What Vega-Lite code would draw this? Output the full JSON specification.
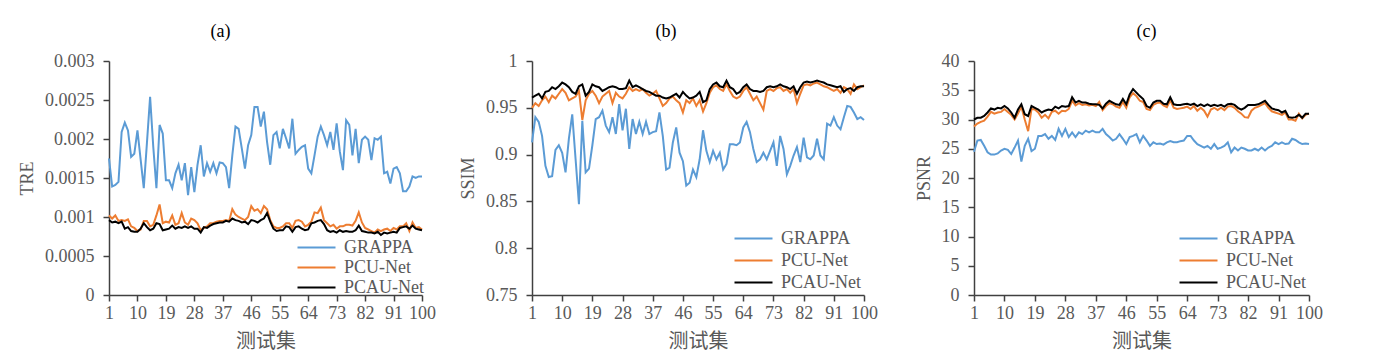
{
  "$schema": "https://vega.github.io/schema/vega-lite/v6.json",
  "background": "white",
  "padding": {"left": 18, "top": 23, "right": 5, "bottom": 5},
  "datasets": {
    "tre": [
      {"i":1,"GRAPPA":0.00175,"PCU-Net":0.00102,"PCAU-Net":0.00096},{"i":2,"GRAPPA":0.00139,"PCU-Net":0.00098,"PCAU-Net":0.00093},{"i":3,"GRAPPA":0.00141,"PCU-Net":0.00102,"PCAU-Net":0.00094},{"i":4,"GRAPPA":0.00145,"PCU-Net":0.00095,"PCAU-Net":0.00092},{"i":5,"GRAPPA":0.00209,"PCU-Net":0.00096,"PCAU-Net":0.00094},{"i":6,"GRAPPA":0.00221,"PCU-Net":0.00095,"PCAU-Net":0.00085},{"i":7,"GRAPPA":0.00211,"PCU-Net":0.00097,"PCAU-Net":0.00087},{"i":8,"GRAPPA":0.00177,"PCU-Net":0.00088,"PCAU-Net":0.00082},{"i":9,"GRAPPA":0.00181,"PCU-Net":0.00086,"PCAU-Net":0.00081},{"i":10,"GRAPPA":0.00211,"PCU-Net":0.00082,"PCAU-Net":0.00081},
      {"i":11,"GRAPPA":0.00174,"PCU-Net":0.00084,"PCAU-Net":0.00085},{"i":12,"GRAPPA":0.00137,"PCU-Net":0.00095,"PCAU-Net":0.00092},{"i":13,"GRAPPA":0.00195,"PCU-Net":0.00095,"PCAU-Net":0.00087},{"i":14,"GRAPPA":0.00254,"PCU-Net":0.00088,"PCAU-Net":0.00083},{"i":15,"GRAPPA":0.0019,"PCU-Net":0.0009,"PCAU-Net":0.00085},{"i":16,"GRAPPA":0.00137,"PCU-Net":0.00102,"PCAU-Net":0.00092},{"i":17,"GRAPPA":0.00218,"PCU-Net":0.00116,"PCAU-Net":0.00091},{"i":18,"GRAPPA":0.00207,"PCU-Net":0.00092,"PCAU-Net":0.00083},{"i":19,"GRAPPA":0.00147,"PCU-Net":0.00094,"PCAU-Net":0.00084},{"i":20,"GRAPPA":0.00147,"PCU-Net":0.00093,"PCAU-Net":0.00085},
      {"i":21,"GRAPPA":0.00137,"PCU-Net":0.00102,"PCAU-Net":0.00089},{"i":22,"GRAPPA":0.00156,"PCU-Net":0.0009,"PCAU-Net":0.00085},{"i":23,"GRAPPA":0.00167,"PCU-Net":0.00092,"PCAU-Net":0.00087},{"i":24,"GRAPPA":0.00147,"PCU-Net":0.00105,"PCAU-Net":0.00086},{"i":25,"GRAPPA":0.00169,"PCU-Net":0.00093,"PCAU-Net":0.00088},{"i":26,"GRAPPA":0.00128,"PCU-Net":0.0009,"PCAU-Net":0.00086},{"i":27,"GRAPPA":0.00164,"PCU-Net":0.00098,"PCAU-Net":0.00088},{"i":28,"GRAPPA":0.00132,"PCU-Net":0.00096,"PCAU-Net":0.00085},{"i":29,"GRAPPA":0.00167,"PCU-Net":0.00092,"PCAU-Net":0.00085},{"i":30,"GRAPPA":0.00192,"PCU-Net":0.00083,"PCAU-Net":0.0008},
      {"i":31,"GRAPPA":0.00152,"PCU-Net":0.00086,"PCAU-Net":0.00087},{"i":32,"GRAPPA":0.00169,"PCU-Net":0.00088,"PCAU-Net":0.00086},{"i":33,"GRAPPA":0.00158,"PCU-Net":0.00092,"PCAU-Net":0.00089},{"i":34,"GRAPPA":0.00169,"PCU-Net":0.00092,"PCAU-Net":0.00091},{"i":35,"GRAPPA":0.00156,"PCU-Net":0.00094,"PCAU-Net":0.00092},{"i":36,"GRAPPA":0.0017,"PCU-Net":0.00095,"PCAU-Net":0.00093},{"i":37,"GRAPPA":0.00169,"PCU-Net":0.00095,"PCAU-Net":0.00093},{"i":38,"GRAPPA":0.00164,"PCU-Net":0.00096,"PCAU-Net":0.00095},{"i":39,"GRAPPA":0.00137,"PCU-Net":0.00095,"PCAU-Net":0.00094},{"i":40,"GRAPPA":0.00179,"PCU-Net":0.0011,"PCAU-Net":0.00098},
      {"i":41,"GRAPPA":0.00216,"PCU-Net":0.00103,"PCAU-Net":0.00096},{"i":42,"GRAPPA":0.00213,"PCU-Net":0.001,"PCAU-Net":0.00095},{"i":43,"GRAPPA":0.00188,"PCU-Net":0.00098,"PCAU-Net":0.00093},{"i":44,"GRAPPA":0.00162,"PCU-Net":0.00096,"PCAU-Net":0.00094},{"i":45,"GRAPPA":0.00192,"PCU-Net":0.001,"PCAU-Net":0.00091},{"i":46,"GRAPPA":0.00205,"PCU-Net":0.00114,"PCAU-Net":0.00096},{"i":47,"GRAPPA":0.00241,"PCU-Net":0.00108,"PCAU-Net":0.00095},{"i":48,"GRAPPA":0.00241,"PCU-Net":0.0011,"PCAU-Net":0.00093},{"i":49,"GRAPPA":0.00216,"PCU-Net":0.00105,"PCAU-Net":0.00096},{"i":50,"GRAPPA":0.00235,"PCU-Net":0.00114,"PCAU-Net":0.00098},
      {"i":51,"GRAPPA":0.00196,"PCU-Net":0.0011,"PCAU-Net":0.00105},{"i":52,"GRAPPA":0.00167,"PCU-Net":0.00096,"PCAU-Net":0.00094},{"i":53,"GRAPPA":0.00205,"PCU-Net":0.00088,"PCAU-Net":0.00085},{"i":54,"GRAPPA":0.00209,"PCU-Net":0.00086,"PCAU-Net":0.00082},{"i":55,"GRAPPA":0.00188,"PCU-Net":0.00086,"PCAU-Net":0.00083},{"i":56,"GRAPPA":0.00213,"PCU-Net":0.00088,"PCAU-Net":0.00083},{"i":57,"GRAPPA":0.00201,"PCU-Net":0.00092,"PCAU-Net":0.00088},{"i":58,"GRAPPA":0.00188,"PCU-Net":0.00092,"PCAU-Net":0.00087},{"i":59,"GRAPPA":0.00226,"PCU-Net":0.00086,"PCAU-Net":0.00081},{"i":60,"GRAPPA":0.00181,"PCU-Net":0.00095,"PCAU-Net":0.00087},
      {"i":61,"GRAPPA":0.00186,"PCU-Net":0.00096,"PCAU-Net":0.00088},{"i":62,"GRAPPA":0.0019,"PCU-Net":0.00094,"PCAU-Net":0.00085},{"i":63,"GRAPPA":0.00192,"PCU-Net":0.00088,"PCAU-Net":0.00083},{"i":64,"GRAPPA":0.00162,"PCU-Net":0.0009,"PCAU-Net":0.00084},{"i":65,"GRAPPA":0.00156,"PCU-Net":0.00094,"PCAU-Net":0.00092},{"i":66,"GRAPPA":0.00179,"PCU-Net":0.00106,"PCAU-Net":0.00093},{"i":67,"GRAPPA":0.00203,"PCU-Net":0.00105,"PCAU-Net":0.00095},{"i":68,"GRAPPA":0.00216,"PCU-Net":0.00112,"PCAU-Net":0.00096},{"i":69,"GRAPPA":0.00205,"PCU-Net":0.00096,"PCAU-Net":0.00091},{"i":70,"GRAPPA":0.00192,"PCU-Net":0.00092,"PCAU-Net":0.00083},
      {"i":71,"GRAPPA":0.00209,"PCU-Net":0.00088,"PCAU-Net":0.00081},{"i":72,"GRAPPA":0.00186,"PCU-Net":0.0009,"PCAU-Net":0.00082},{"i":73,"GRAPPA":0.0022,"PCU-Net":0.00085,"PCAU-Net":0.0008},{"i":74,"GRAPPA":0.00184,"PCU-Net":0.00088,"PCAU-Net":0.00083},{"i":75,"GRAPPA":0.0016,"PCU-Net":0.00088,"PCAU-Net":0.00081},{"i":76,"GRAPPA":0.00224,"PCU-Net":0.0009,"PCAU-Net":0.00082},{"i":77,"GRAPPA":0.00218,"PCU-Net":0.0009,"PCAU-Net":0.00081},{"i":78,"GRAPPA":0.00179,"PCU-Net":0.00089,"PCAU-Net":0.00081},{"i":79,"GRAPPA":0.00213,"PCU-Net":0.00095,"PCAU-Net":0.00083},{"i":80,"GRAPPA":0.00169,"PCU-Net":0.00106,"PCAU-Net":0.00089},
      {"i":81,"GRAPPA":0.00199,"PCU-Net":0.00093,"PCAU-Net":0.00082},{"i":82,"GRAPPA":0.00203,"PCU-Net":0.00086,"PCAU-Net":0.00081},{"i":83,"GRAPPA":0.00199,"PCU-Net":0.00084,"PCAU-Net":0.0008},{"i":84,"GRAPPA":0.00173,"PCU-Net":0.00082,"PCAU-Net":0.0008},{"i":85,"GRAPPA":0.00201,"PCU-Net":0.0008,"PCAU-Net":0.00079},{"i":86,"GRAPPA":0.00199,"PCU-Net":0.00084,"PCAU-Net":0.00081},{"i":87,"GRAPPA":0.00203,"PCU-Net":0.00082,"PCAU-Net":0.00077},{"i":88,"GRAPPA":0.00156,"PCU-Net":0.00084,"PCAU-Net":0.0008},{"i":89,"GRAPPA":0.00158,"PCU-Net":0.00085,"PCAU-Net":0.00079},{"i":90,"GRAPPA":0.00143,"PCU-Net":0.00082,"PCAU-Net":0.0008},
      {"i":91,"GRAPPA":0.00162,"PCU-Net":0.00086,"PCAU-Net":0.00081},{"i":92,"GRAPPA":0.00164,"PCU-Net":0.00084,"PCAU-Net":0.0008},{"i":93,"GRAPPA":0.00156,"PCU-Net":0.00088,"PCAU-Net":0.00086},{"i":94,"GRAPPA":0.00133,"PCU-Net":0.00088,"PCAU-Net":0.00087},{"i":95,"GRAPPA":0.00133,"PCU-Net":0.00092,"PCAU-Net":0.00088},{"i":96,"GRAPPA":0.00139,"PCU-Net":0.00082,"PCAU-Net":0.00085},{"i":97,"GRAPPA":0.00152,"PCU-Net":0.00093,"PCAU-Net":0.00089},{"i":98,"GRAPPA":0.0015,"PCU-Net":0.00086,"PCAU-Net":0.00085},{"i":99,"GRAPPA":0.00152,"PCU-Net":0.00087,"PCAU-Net":0.00084},{"i":100,"GRAPPA":0.00152,"PCU-Net":0.00084,"PCAU-Net":0.00083}
    ],
    "ssim": [
      {"i":1,"GRAPPA":0.913,"PCU-Net":0.95,"PCAU-Net":0.961},{"i":2,"GRAPPA":0.94,"PCU-Net":0.955,"PCAU-Net":0.963},{"i":3,"GRAPPA":0.935,"PCU-Net":0.952,"PCAU-Net":0.965},{"i":4,"GRAPPA":0.92,"PCU-Net":0.958,"PCAU-Net":0.96},{"i":5,"GRAPPA":0.888,"PCU-Net":0.962,"PCAU-Net":0.967},{"i":6,"GRAPPA":0.876,"PCU-Net":0.956,"PCAU-Net":0.968},{"i":7,"GRAPPA":0.877,"PCU-Net":0.963,"PCAU-Net":0.972},{"i":8,"GRAPPA":0.905,"PCU-Net":0.96,"PCAU-Net":0.97},{"i":9,"GRAPPA":0.91,"PCU-Net":0.965,"PCAU-Net":0.973},{"i":10,"GRAPPA":0.902,"PCU-Net":0.97,"PCAU-Net":0.977},
      {"i":11,"GRAPPA":0.881,"PCU-Net":0.966,"PCAU-Net":0.975},{"i":12,"GRAPPA":0.917,"PCU-Net":0.958,"PCAU-Net":0.972},{"i":13,"GRAPPA":0.943,"PCU-Net":0.96,"PCAU-Net":0.967},{"i":14,"GRAPPA":0.895,"PCU-Net":0.962,"PCAU-Net":0.965},{"i":15,"GRAPPA":0.847,"PCU-Net":0.968,"PCAU-Net":0.973},{"i":16,"GRAPPA":0.936,"PCU-Net":0.937,"PCAU-Net":0.975},{"i":17,"GRAPPA":0.881,"PCU-Net":0.958,"PCAU-Net":0.963},{"i":18,"GRAPPA":0.885,"PCU-Net":0.965,"PCAU-Net":0.967},{"i":19,"GRAPPA":0.91,"PCU-Net":0.968,"PCAU-Net":0.975},{"i":20,"GRAPPA":0.938,"PCU-Net":0.963,"PCAU-Net":0.973},
      {"i":21,"GRAPPA":0.94,"PCU-Net":0.955,"PCAU-Net":0.972},{"i":22,"GRAPPA":0.947,"PCU-Net":0.962,"PCAU-Net":0.968},{"i":23,"GRAPPA":0.931,"PCU-Net":0.965,"PCAU-Net":0.97},{"i":24,"GRAPPA":0.924,"PCU-Net":0.968,"PCAU-Net":0.972},{"i":25,"GRAPPA":0.94,"PCU-Net":0.955,"PCAU-Net":0.973},{"i":26,"GRAPPA":0.922,"PCU-Net":0.966,"PCAU-Net":0.972},{"i":27,"GRAPPA":0.954,"PCU-Net":0.962,"PCAU-Net":0.97},{"i":28,"GRAPPA":0.926,"PCU-Net":0.96,"PCAU-Net":0.97},{"i":29,"GRAPPA":0.949,"PCU-Net":0.965,"PCAU-Net":0.971},{"i":30,"GRAPPA":0.906,"PCU-Net":0.972,"PCAU-Net":0.979},
      {"i":31,"GRAPPA":0.938,"PCU-Net":0.968,"PCAU-Net":0.972},{"i":32,"GRAPPA":0.922,"PCU-Net":0.97,"PCAU-Net":0.974},{"i":33,"GRAPPA":0.935,"PCU-Net":0.968,"PCAU-Net":0.972},{"i":34,"GRAPPA":0.922,"PCU-Net":0.97,"PCAU-Net":0.97},{"i":35,"GRAPPA":0.935,"PCU-Net":0.966,"PCAU-Net":0.968},{"i":36,"GRAPPA":0.922,"PCU-Net":0.963,"PCAU-Net":0.967},{"i":37,"GRAPPA":0.924,"PCU-Net":0.965,"PCAU-Net":0.965},{"i":38,"GRAPPA":0.925,"PCU-Net":0.968,"PCAU-Net":0.963},{"i":39,"GRAPPA":0.945,"PCU-Net":0.96,"PCAU-Net":0.963},{"i":40,"GRAPPA":0.92,"PCU-Net":0.952,"PCAU-Net":0.961},
      {"i":41,"GRAPPA":0.884,"PCU-Net":0.955,"PCAU-Net":0.96},{"i":42,"GRAPPA":0.886,"PCU-Net":0.96,"PCAU-Net":0.961},{"i":43,"GRAPPA":0.913,"PCU-Net":0.962,"PCAU-Net":0.963},{"i":44,"GRAPPA":0.929,"PCU-Net":0.958,"PCAU-Net":0.965},{"i":45,"GRAPPA":0.902,"PCU-Net":0.955,"PCAU-Net":0.961},{"i":46,"GRAPPA":0.893,"PCU-Net":0.945,"PCAU-Net":0.967},{"i":47,"GRAPPA":0.867,"PCU-Net":0.958,"PCAU-Net":0.963},{"i":48,"GRAPPA":0.87,"PCU-Net":0.955,"PCAU-Net":0.96},{"i":49,"GRAPPA":0.884,"PCU-Net":0.96,"PCAU-Net":0.961},{"i":50,"GRAPPA":0.876,"PCU-Net":0.952,"PCAU-Net":0.963},
      {"i":51,"GRAPPA":0.895,"PCU-Net":0.958,"PCAU-Net":0.967},{"i":52,"GRAPPA":0.926,"PCU-Net":0.946,"PCAU-Net":0.956},{"i":53,"GRAPPA":0.904,"PCU-Net":0.955,"PCAU-Net":0.958},{"i":54,"GRAPPA":0.892,"PCU-Net":0.966,"PCAU-Net":0.97},{"i":55,"GRAPPA":0.904,"PCU-Net":0.972,"PCAU-Net":0.975},{"i":56,"GRAPPA":0.895,"PCU-Net":0.974,"PCAU-Net":0.977},{"i":57,"GRAPPA":0.902,"PCU-Net":0.97,"PCAU-Net":0.973},{"i":58,"GRAPPA":0.884,"PCU-Net":0.968,"PCAU-Net":0.972},{"i":59,"GRAPPA":0.89,"PCU-Net":0.975,"PCAU-Net":0.979},{"i":60,"GRAPPA":0.911,"PCU-Net":0.968,"PCAU-Net":0.972},
      {"i":61,"GRAPPA":0.911,"PCU-Net":0.962,"PCAU-Net":0.97},{"i":62,"GRAPPA":0.91,"PCU-Net":0.96,"PCAU-Net":0.965},{"i":63,"GRAPPA":0.913,"PCU-Net":0.962,"PCAU-Net":0.967},{"i":64,"GRAPPA":0.929,"PCU-Net":0.968,"PCAU-Net":0.972},{"i":65,"GRAPPA":0.935,"PCU-Net":0.972,"PCAU-Net":0.975},{"i":66,"GRAPPA":0.924,"PCU-Net":0.965,"PCAU-Net":0.97},{"i":67,"GRAPPA":0.906,"PCU-Net":0.958,"PCAU-Net":0.968},{"i":68,"GRAPPA":0.892,"PCU-Net":0.962,"PCAU-Net":0.968},{"i":69,"GRAPPA":0.895,"PCU-Net":0.955,"PCAU-Net":0.967},{"i":70,"GRAPPA":0.902,"PCU-Net":0.948,"PCAU-Net":0.968},
      {"i":71,"GRAPPA":0.895,"PCU-Net":0.968,"PCAU-Net":0.972},{"i":72,"GRAPPA":0.904,"PCU-Net":0.97,"PCAU-Net":0.973},{"i":73,"GRAPPA":0.913,"PCU-Net":0.968,"PCAU-Net":0.972},{"i":74,"GRAPPA":0.888,"PCU-Net":0.971,"PCAU-Net":0.973},{"i":75,"GRAPPA":0.92,"PCU-Net":0.972,"PCAU-Net":0.975},{"i":76,"GRAPPA":0.906,"PCU-Net":0.968,"PCAU-Net":0.973},{"i":77,"GRAPPA":0.879,"PCU-Net":0.97,"PCAU-Net":0.972},{"i":78,"GRAPPA":0.888,"PCU-Net":0.966,"PCAU-Net":0.97},{"i":79,"GRAPPA":0.899,"PCU-Net":0.97,"PCAU-Net":0.973},{"i":80,"GRAPPA":0.908,"PCU-Net":0.955,"PCAU-Net":0.965},
      {"i":81,"GRAPPA":0.892,"PCU-Net":0.965,"PCAU-Net":0.972},{"i":82,"GRAPPA":0.918,"PCU-Net":0.974,"PCAU-Net":0.977},{"i":83,"GRAPPA":0.897,"PCU-Net":0.975,"PCAU-Net":0.978},{"i":84,"GRAPPA":0.895,"PCU-Net":0.974,"PCAU-Net":0.977},{"i":85,"GRAPPA":0.899,"PCU-Net":0.976,"PCAU-Net":0.978},{"i":86,"GRAPPA":0.917,"PCU-Net":0.977,"PCAU-Net":0.979},{"i":87,"GRAPPA":0.899,"PCU-Net":0.975,"PCAU-Net":0.978},{"i":88,"GRAPPA":0.895,"PCU-Net":0.973,"PCAU-Net":0.977},{"i":89,"GRAPPA":0.933,"PCU-Net":0.972,"PCAU-Net":0.975},{"i":90,"GRAPPA":0.931,"PCU-Net":0.97,"PCAU-Net":0.974},
      {"i":91,"GRAPPA":0.94,"PCU-Net":0.968,"PCAU-Net":0.973},{"i":92,"GRAPPA":0.931,"PCU-Net":0.97,"PCAU-Net":0.972},{"i":93,"GRAPPA":0.927,"PCU-Net":0.966,"PCAU-Net":0.973},{"i":94,"GRAPPA":0.94,"PCU-Net":0.972,"PCAU-Net":0.967},{"i":95,"GRAPPA":0.952,"PCU-Net":0.97,"PCAU-Net":0.97},{"i":96,"GRAPPA":0.951,"PCU-Net":0.965,"PCAU-Net":0.971},{"i":97,"GRAPPA":0.945,"PCU-Net":0.975,"PCAU-Net":0.968},{"i":98,"GRAPPA":0.938,"PCU-Net":0.97,"PCAU-Net":0.972},{"i":99,"GRAPPA":0.94,"PCU-Net":0.972,"PCAU-Net":0.973},{"i":100,"GRAPPA":0.937,"PCU-Net":0.974,"PCAU-Net":0.973}
    ],
    "psnr": [
      {"i":1,"GRAPPA":24.5,"PCU-Net":28.8,"PCAU-Net":30.0},{"i":2,"GRAPPA":26.4,"PCU-Net":29.3,"PCAU-Net":30.3},{"i":3,"GRAPPA":26.5,"PCU-Net":29.6,"PCAU-Net":30.3},{"i":4,"GRAPPA":25.5,"PCU-Net":29.8,"PCAU-Net":30.6},{"i":5,"GRAPPA":24.4,"PCU-Net":30.5,"PCAU-Net":31.2},{"i":6,"GRAPPA":24.0,"PCU-Net":31.3,"PCAU-Net":31.9},{"i":7,"GRAPPA":24.0,"PCU-Net":31.0,"PCAU-Net":31.7},{"i":8,"GRAPPA":24.2,"PCU-Net":31.2,"PCAU-Net":32.0},{"i":9,"GRAPPA":24.7,"PCU-Net":31.3,"PCAU-Net":31.9},{"i":10,"GRAPPA":25.0,"PCU-Net":31.8,"PCAU-Net":32.3},
      {"i":11,"GRAPPA":24.8,"PCU-Net":31.3,"PCAU-Net":31.9},{"i":12,"GRAPPA":24.1,"PCU-Net":30.8,"PCAU-Net":31.2},{"i":13,"GRAPPA":25.2,"PCU-Net":30.0,"PCAU-Net":30.3},{"i":14,"GRAPPA":26.4,"PCU-Net":31.0,"PCAU-Net":31.7},{"i":15,"GRAPPA":22.8,"PCU-Net":32.2,"PCAU-Net":32.6},{"i":16,"GRAPPA":25.5,"PCU-Net":30.0,"PCAU-Net":30.9},{"i":17,"GRAPPA":26.7,"PCU-Net":28.0,"PCAU-Net":30.6},{"i":18,"GRAPPA":24.6,"PCU-Net":31.8,"PCAU-Net":32.3},{"i":19,"GRAPPA":25.0,"PCU-Net":31.7,"PCAU-Net":32.0},{"i":20,"GRAPPA":27.2,"PCU-Net":31.2,"PCAU-Net":31.7},
      {"i":21,"GRAPPA":27.2,"PCU-Net":30.3,"PCAU-Net":31.2},{"i":22,"GRAPPA":27.5,"PCU-Net":30.8,"PCAU-Net":31.5},{"i":23,"GRAPPA":26.7,"PCU-Net":30.2,"PCAU-Net":31.7},{"i":24,"GRAPPA":27.2,"PCU-Net":31.3,"PCAU-Net":31.6},{"i":25,"GRAPPA":26.5,"PCU-Net":31.5,"PCAU-Net":32.2},{"i":26,"GRAPPA":28.4,"PCU-Net":31.0,"PCAU-Net":31.9},{"i":27,"GRAPPA":27.2,"PCU-Net":31.5,"PCAU-Net":32.3},{"i":28,"GRAPPA":28.4,"PCU-Net":31.4,"PCAU-Net":32.2},{"i":29,"GRAPPA":27.0,"PCU-Net":31.8,"PCAU-Net":32.3},{"i":30,"GRAPPA":27.8,"PCU-Net":33.2,"PCAU-Net":33.8},
      {"i":31,"GRAPPA":27.0,"PCU-Net":32.4,"PCAU-Net":32.9},{"i":32,"GRAPPA":27.8,"PCU-Net":32.8,"PCAU-Net":33.2},{"i":33,"GRAPPA":27.5,"PCU-Net":32.5,"PCAU-Net":32.9},{"i":34,"GRAPPA":28.1,"PCU-Net":32.6,"PCAU-Net":32.9},{"i":35,"GRAPPA":27.8,"PCU-Net":32.4,"PCAU-Net":32.7},{"i":36,"GRAPPA":28.1,"PCU-Net":32.5,"PCAU-Net":32.6},{"i":37,"GRAPPA":27.8,"PCU-Net":32.3,"PCAU-Net":32.6},{"i":38,"GRAPPA":27.8,"PCU-Net":33.0,"PCAU-Net":32.5},{"i":39,"GRAPPA":28.4,"PCU-Net":31.6,"PCAU-Net":31.9},{"i":40,"GRAPPA":27.5,"PCU-Net":32.3,"PCAU-Net":32.7},
      {"i":41,"GRAPPA":27.0,"PCU-Net":32.8,"PCAU-Net":33.2},{"i":42,"GRAPPA":26.4,"PCU-Net":32.6,"PCAU-Net":32.9},{"i":43,"GRAPPA":26.7,"PCU-Net":32.2,"PCAU-Net":32.6},{"i":44,"GRAPPA":27.5,"PCU-Net":32.0,"PCAU-Net":32.5},{"i":45,"GRAPPA":26.7,"PCU-Net":33.0,"PCAU-Net":33.5},{"i":46,"GRAPPA":25.8,"PCU-Net":32.0,"PCAU-Net":32.6},{"i":47,"GRAPPA":27.0,"PCU-Net":33.8,"PCAU-Net":34.3},{"i":48,"GRAPPA":27.2,"PCU-Net":34.5,"PCAU-Net":35.2},{"i":49,"GRAPPA":27.5,"PCU-Net":34.0,"PCAU-Net":34.6},{"i":50,"GRAPPA":26.1,"PCU-Net":33.2,"PCAU-Net":34.0},
      {"i":51,"GRAPPA":27.2,"PCU-Net":33.0,"PCAU-Net":33.5},{"i":52,"GRAPPA":26.4,"PCU-Net":31.8,"PCAU-Net":32.3},{"i":53,"GRAPPA":25.5,"PCU-Net":31.6,"PCAU-Net":32.0},{"i":54,"GRAPPA":26.1,"PCU-Net":32.5,"PCAU-Net":32.9},{"i":55,"GRAPPA":25.8,"PCU-Net":32.8,"PCAU-Net":33.2},{"i":56,"GRAPPA":25.9,"PCU-Net":32.9,"PCAU-Net":33.2},{"i":57,"GRAPPA":25.7,"PCU-Net":32.4,"PCAU-Net":32.7},{"i":58,"GRAPPA":26.1,"PCU-Net":32.1,"PCAU-Net":32.6},{"i":59,"GRAPPA":26.3,"PCU-Net":33.3,"PCAU-Net":33.8},{"i":60,"GRAPPA":26.1,"PCU-Net":32.0,"PCAU-Net":32.6},
      {"i":61,"GRAPPA":26.1,"PCU-Net":31.8,"PCAU-Net":32.5},{"i":62,"GRAPPA":26.3,"PCU-Net":31.9,"PCAU-Net":32.5},{"i":63,"GRAPPA":26.4,"PCU-Net":32.0,"PCAU-Net":32.6},{"i":64,"GRAPPA":27.2,"PCU-Net":32.2,"PCAU-Net":32.7},{"i":65,"GRAPPA":27.2,"PCU-Net":31.8,"PCAU-Net":32.5},{"i":66,"GRAPPA":26.4,"PCU-Net":32.3,"PCAU-Net":32.7},{"i":67,"GRAPPA":25.8,"PCU-Net":31.5,"PCAU-Net":32.3},{"i":68,"GRAPPA":25.5,"PCU-Net":32.0,"PCAU-Net":32.6},{"i":69,"GRAPPA":25.2,"PCU-Net":31.5,"PCAU-Net":32.3},{"i":70,"GRAPPA":25.5,"PCU-Net":30.5,"PCAU-Net":32.6},
      {"i":71,"GRAPPA":25.0,"PCU-Net":31.7,"PCAU-Net":32.3},{"i":72,"GRAPPA":25.8,"PCU-Net":32.0,"PCAU-Net":32.5},{"i":73,"GRAPPA":25.0,"PCU-Net":31.6,"PCAU-Net":32.3},{"i":74,"GRAPPA":25.2,"PCU-Net":32.0,"PCAU-Net":32.5},{"i":75,"GRAPPA":25.5,"PCU-Net":31.6,"PCAU-Net":32.2},{"i":76,"GRAPPA":26.1,"PCU-Net":32.2,"PCAU-Net":32.6},{"i":77,"GRAPPA":24.4,"PCU-Net":32.3,"PCAU-Net":32.7},{"i":78,"GRAPPA":25.2,"PCU-Net":32.0,"PCAU-Net":32.5},{"i":79,"GRAPPA":24.7,"PCU-Net":31.4,"PCAU-Net":32.0},{"i":80,"GRAPPA":25.2,"PCU-Net":31.0,"PCAU-Net":31.7},
      {"i":81,"GRAPPA":25.0,"PCU-Net":30.4,"PCAU-Net":32.0},{"i":82,"GRAPPA":24.7,"PCU-Net":30.3,"PCAU-Net":32.5},{"i":83,"GRAPPA":24.7,"PCU-Net":31.5,"PCAU-Net":32.5},{"i":84,"GRAPPA":25.0,"PCU-Net":32.0,"PCAU-Net":32.5},{"i":85,"GRAPPA":24.7,"PCU-Net":32.2,"PCAU-Net":32.6},{"i":86,"GRAPPA":25.2,"PCU-Net":32.5,"PCAU-Net":32.9},{"i":87,"GRAPPA":24.7,"PCU-Net":32.8,"PCAU-Net":33.2},{"i":88,"GRAPPA":25.2,"PCU-Net":32.0,"PCAU-Net":32.5},{"i":89,"GRAPPA":25.5,"PCU-Net":31.4,"PCAU-Net":31.9},{"i":90,"GRAPPA":26.1,"PCU-Net":31.2,"PCAU-Net":31.7},
      {"i":91,"GRAPPA":25.8,"PCU-Net":31.0,"PCAU-Net":31.6},{"i":92,"GRAPPA":26.1,"PCU-Net":30.8,"PCAU-Net":31.2},{"i":93,"GRAPPA":25.8,"PCU-Net":31.2,"PCAU-Net":31.5},{"i":94,"GRAPPA":25.9,"PCU-Net":30.0,"PCAU-Net":30.4},{"i":95,"GRAPPA":26.7,"PCU-Net":30.0,"PCAU-Net":30.3},{"i":96,"GRAPPA":26.5,"PCU-Net":29.8,"PCAU-Net":30.4},{"i":97,"GRAPPA":26.1,"PCU-Net":31.0,"PCAU-Net":30.8},{"i":98,"GRAPPA":25.8,"PCU-Net":30.2,"PCAU-Net":30.3},{"i":99,"GRAPPA":25.9,"PCU-Net":30.8,"PCAU-Net":31.0},{"i":100,"GRAPPA":25.8,"PCU-Net":31.0,"PCAU-Net":31.0}
    ]
  },
  "spacing": 110,
  "bounds": "flush",
  "resolve": {"scale": {"x": "independent", "y": "independent", "color": "independent"}, "legend": {"color": "independent"}},
  "hconcat": [
    {
      "width": 313, "height": 234,
      "title": {"text": "(a)", "dx": -45},
      "data": {"name": "tre"},
      "transform": [{"fold": ["GRAPPA", "PCU-Net", "PCAU-Net"], "as": ["method", "value"]}],
      "mark": {"type": "line", "strokeWidth": 2},
      "encoding": {
        "x": {"field": "i", "type": "quantitative", "scale": {"domain": [1, 100], "nice": false, "zero": false}, "axis": {"values": [1, 10, 19, 28, 37, 46, 55, 64, 73, 82, 91, 100], "title": "测试集"}},
        "y": {"field": "value", "type": "quantitative", "scale": {"domain": [0, 0.003], "nice": false}, "axis": {"values": [0, 0.0005, 0.001, 0.0015, 0.002, 0.0025, 0.003], "format": "~g", "title": "TRE"}},
        "color": {"field": "method", "type": "nominal", "sort": null, "scale": {"domain": ["GRAPPA", "PCU-Net", "PCAU-Net"], "range": ["#5B9BD5", "#ED7D31", "#000000"]}, "legend": {"title": null, "orient": "bottom-right", "offset": -2, "rowPadding": 0}}
      }
    },
    {
      "width": 332, "height": 234,
      "title": {"text": "(b)", "dx": -32},
      "data": {"name": "ssim"},
      "transform": [{"fold": ["GRAPPA", "PCU-Net", "PCAU-Net"], "as": ["method", "value"]}],
      "mark": {"type": "line", "strokeWidth": 2},
      "encoding": {
        "x": {"field": "i", "type": "quantitative", "scale": {"domain": [1, 100], "nice": false, "zero": false}, "axis": {"values": [1, 10, 19, 28, 37, 46, 55, 64, 73, 82, 91, 100], "title": "测试集"}},
        "y": {"field": "value", "type": "quantitative", "scale": {"domain": [0.75, 1], "nice": false, "zero": false}, "axis": {"values": [0.75, 0.8, 0.85, 0.9, 0.95, 1], "format": "~g", "title": "SSIM"}},
        "color": {"field": "method", "type": "nominal", "sort": null, "scale": {"domain": ["GRAPPA", "PCU-Net", "PCAU-Net"], "range": ["#5B9BD5", "#ED7D31", "#000000"]}, "legend": {"title": null, "orient": "bottom-right", "offset": 3}}
      }
    },
    {
      "width": 335, "height": 234,
      "title": {"text": "(c)", "dx": 5},
      "data": {"name": "psnr"},
      "transform": [{"fold": ["GRAPPA", "PCU-Net", "PCAU-Net"], "as": ["method", "value"]}],
      "mark": {"type": "line", "strokeWidth": 2},
      "encoding": {
        "x": {"field": "i", "type": "quantitative", "scale": {"domain": [1, 100], "nice": false, "zero": false}, "axis": {"values": [1, 10, 19, 28, 37, 46, 55, 64, 73, 82, 91, 100], "title": "测试集"}},
        "y": {"field": "value", "type": "quantitative", "scale": {"domain": [0, 40], "nice": false}, "axis": {"values": [0, 5, 10, 15, 20, 25, 30, 35, 40], "title": "PSNR"}},
        "color": {"field": "method", "type": "nominal", "sort": null, "scale": {"domain": ["GRAPPA", "PCU-Net", "PCAU-Net"], "range": ["#5B9BD5", "#ED7D31", "#000000"]}, "legend": {"title": null, "orient": "bottom-right", "offset": 3}}
      }
    }
  ],
  "config": {
    "font": "Liberation Serif",
    "view": {"stroke": null},
    "title": {"fontSize": 18, "fontWeight": "normal", "font": "Liberation Serif", "color": "#000000", "offset": 11, "anchor": "middle", "frame": "group"},
    "axis": {"grid": false, "domainColor": "#404040", "tickColor": "#404040", "domainWidth": 1.5, "tickWidth": 1.5, "tickSize": 6, "labelColor": "#595959", "labelFontSize": 18, "labelFont": "Liberation Serif", "titleColor": "#595959", "titleFontWeight": "normal"},
    "axisX": {"labelPadding": 3, "titleFont": "Noto Sans CJK SC", "titleFontSize": 20, "titlePadding": 9, "labelFlush": false},
    "axisY": {"labelPadding": 9, "titleFont": "Liberation Serif", "titleFontSize": 18, "titlePadding": 8},
    "legend": {"symbolType": "M-2,0H2", "symbolSize": 361, "symbolStrokeWidth": 2, "labelFontSize": 18, "labelFont": "Liberation Serif", "labelColor": "#595959", "rowPadding": 2, "labelOffset": 17, "padding": 0}
  }
}
